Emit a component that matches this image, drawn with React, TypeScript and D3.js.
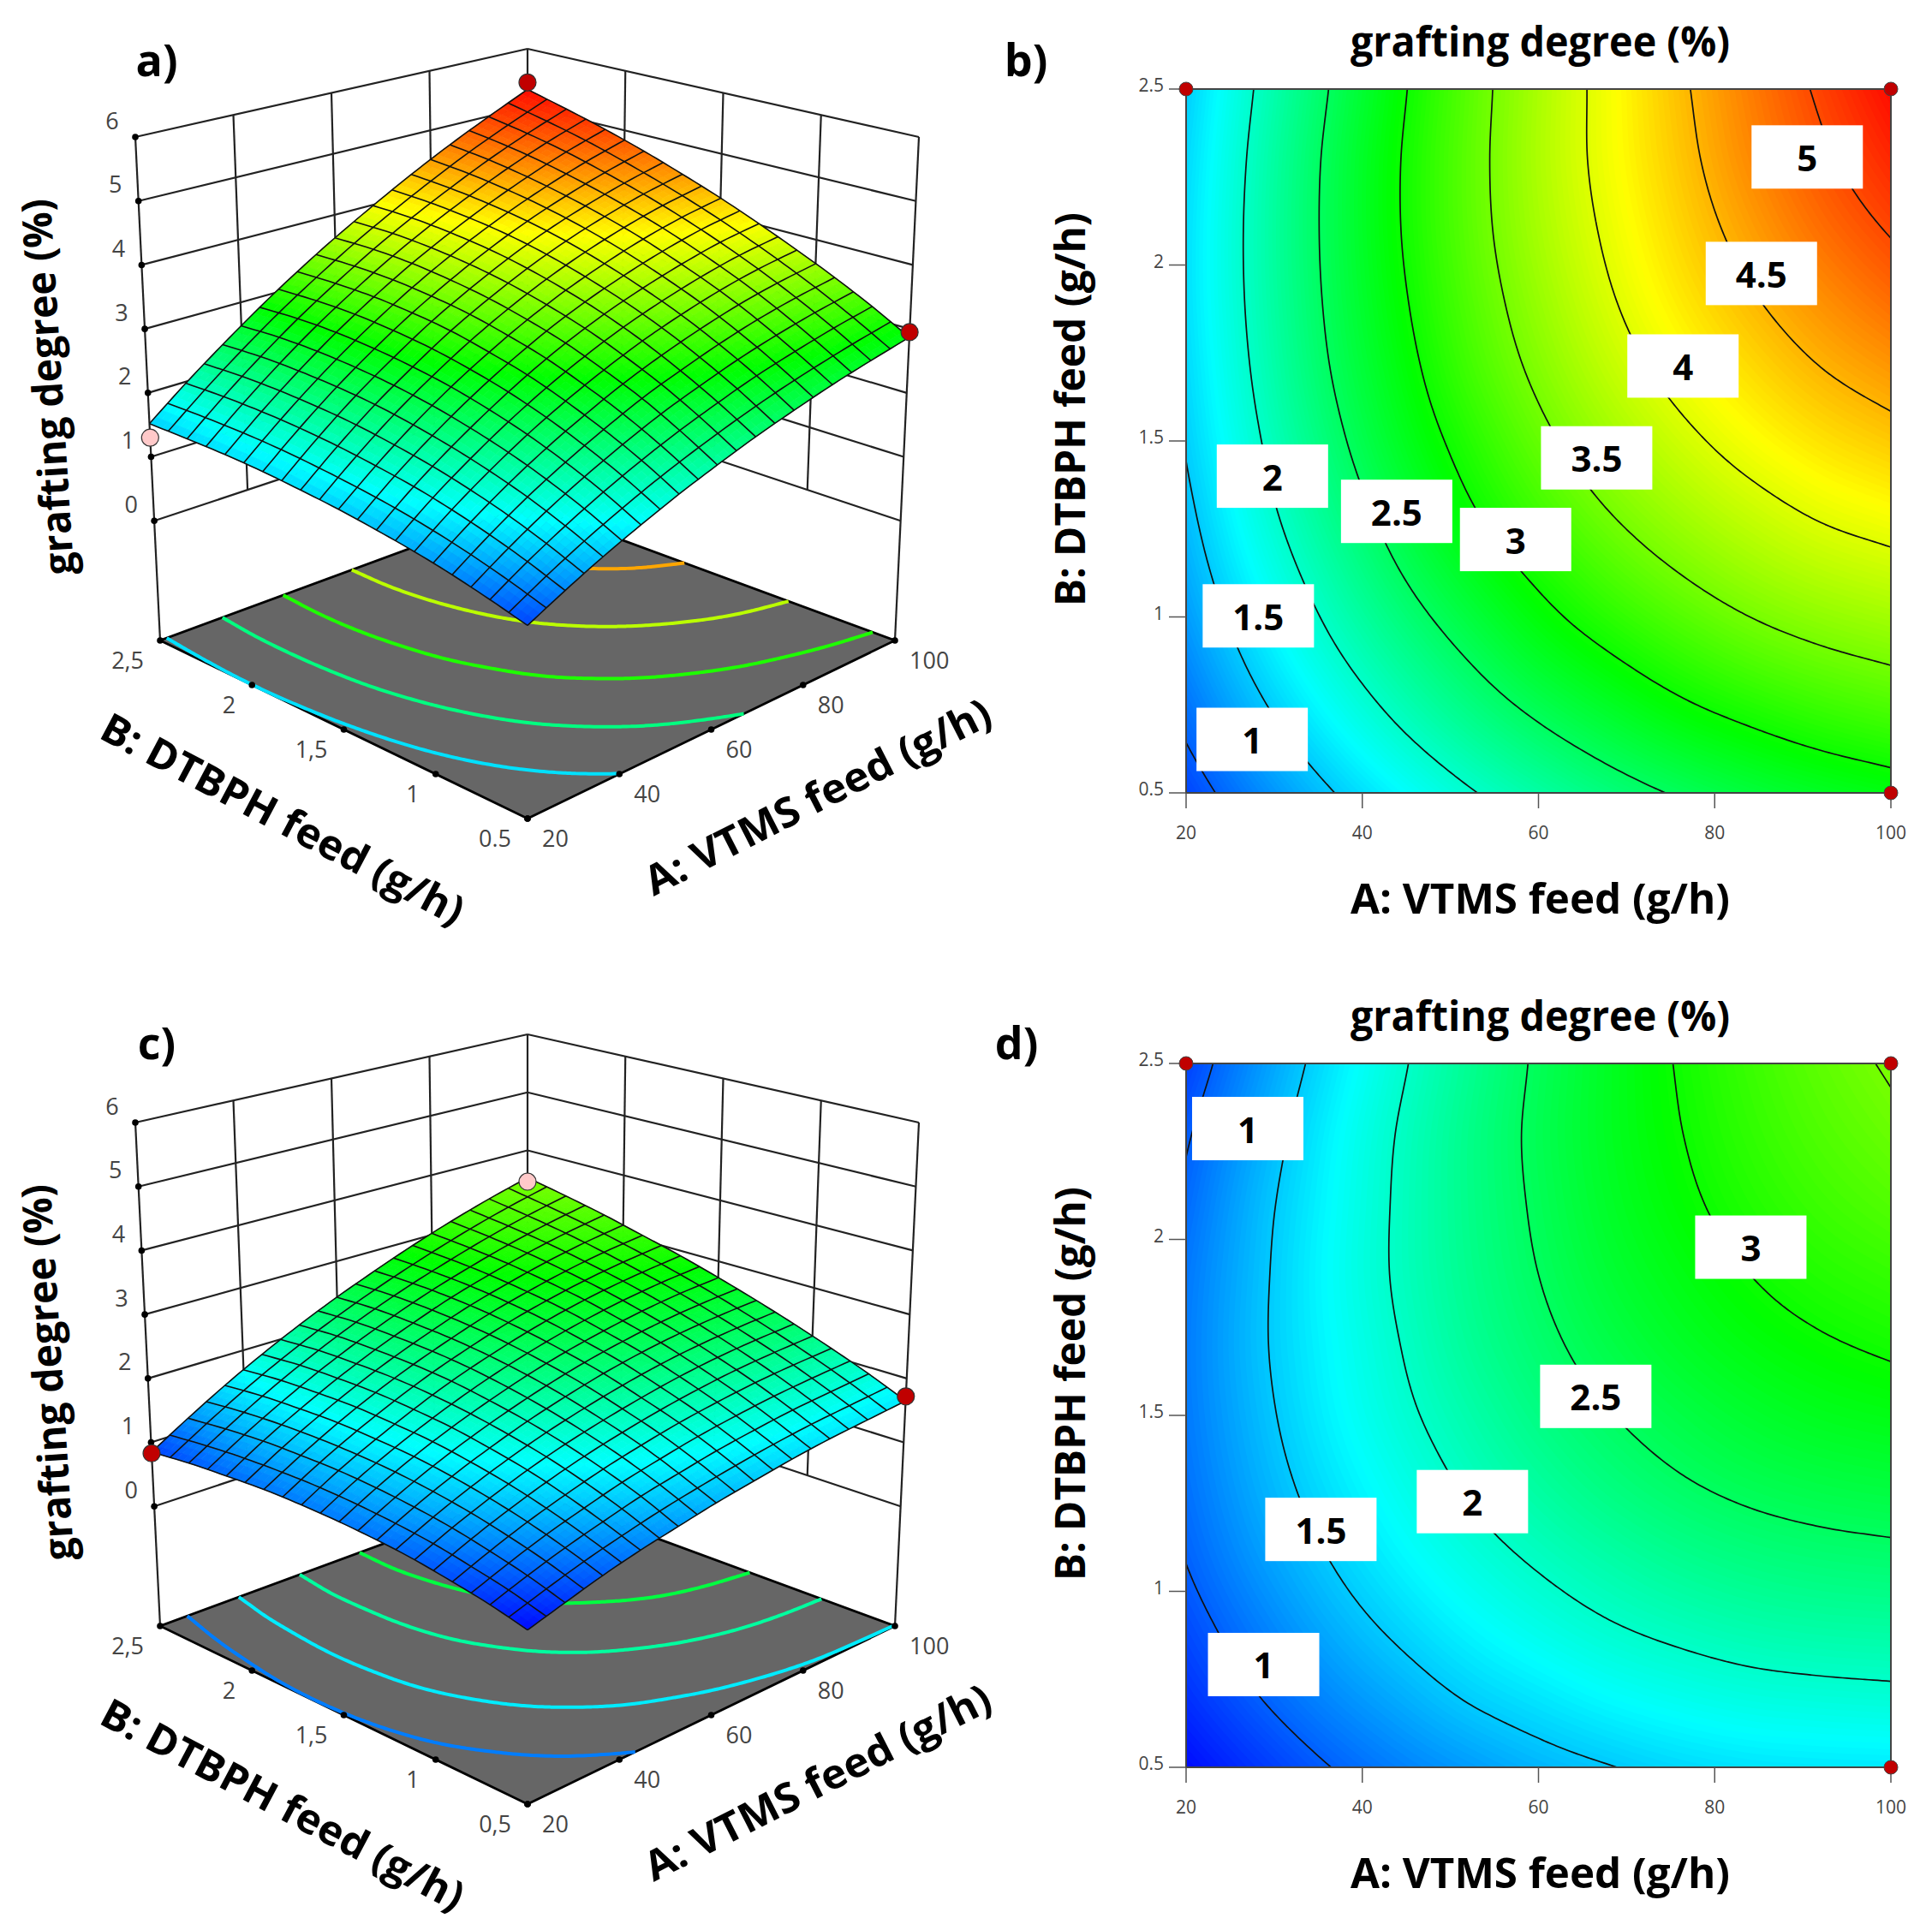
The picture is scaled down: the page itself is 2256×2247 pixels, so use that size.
import React, { useEffect } from "react";
import * as d3 from "d3";

// response tables, rows run B = 0.5 -> 2.5, columns A = 20 -> 100
const gradeTop = [
  [0.87, 1.18, 1.47, 1.73, 1.97, 2.18, 2.37, 2.53, 2.67, 2.78, 2.87],
  [1.05, 1.40, 1.72, 2.01, 2.27, 2.50, 2.70, 2.88, 3.02, 3.14, 3.23],
  [1.21, 1.59, 1.94, 2.25, 2.53, 2.79, 3.00, 3.19, 3.35, 3.47, 3.56],
  [1.34, 1.75, 2.12, 2.46, 2.76, 3.03, 3.27, 3.47, 3.64, 3.77, 3.86],
  [1.44, 1.88, 2.27, 2.63, 2.96, 3.25, 3.50, 3.71, 3.89, 4.04, 4.14],
  [1.52, 1.97, 2.39, 2.77, 3.11, 3.42, 3.69, 3.92, 4.12, 4.28, 4.40],
  [1.57, 2.04, 2.48, 2.87, 3.24, 3.56, 3.85, 4.10, 4.31, 4.49, 4.63],
  [1.60, 2.08, 2.53, 2.94, 3.32, 3.66, 3.97, 4.24, 4.47, 4.67, 4.84],
  [1.60, 2.09, 2.55, 2.98, 3.37, 3.73, 4.05, 4.34, 4.60, 4.83, 5.02],
  [1.57, 2.07, 2.54, 2.98, 3.38, 3.76, 4.10, 4.41, 4.70, 4.95, 5.17],
  [1.52, 2.02, 2.49, 2.94, 3.36, 3.75, 4.11, 4.45, 4.76, 5.04, 5.30],
];
const gradeBottom = [
  [0.60, 0.80, 0.99, 1.15, 1.28, 1.40, 1.49, 1.57, 1.62, 1.64, 1.65],
  [0.77, 0.99, 1.19, 1.36, 1.52, 1.64, 1.75, 1.83, 1.89, 1.92, 1.94],
  [0.90, 1.14, 1.36, 1.55, 1.72, 1.86, 1.98, 2.07, 2.14, 2.18, 2.20],
  [1.01, 1.27, 1.50, 1.71, 1.89, 2.04, 2.17, 2.28, 2.36, 2.41, 2.44],
  [1.08, 1.36, 1.61, 1.83, 2.03, 2.20, 2.35, 2.47, 2.56, 2.62, 2.66],
  [1.12, 1.42, 1.69, 1.93, 2.14, 2.33, 2.49, 2.62, 2.73, 2.81, 2.86],
  [1.13, 1.45, 1.73, 1.99, 2.23, 2.43, 2.61, 2.76, 2.88, 2.97, 3.04],
  [1.11, 1.44, 1.75, 2.03, 2.28, 2.50, 2.70, 2.86, 3.00, 3.11, 3.19],
  [1.05, 1.41, 1.73, 2.03, 2.30, 2.54, 2.76, 2.94, 3.10, 3.23, 3.33],
  [0.97, 1.34, 1.69, 2.01, 2.30, 2.56, 2.79, 2.99, 3.17, 3.32, 3.44],
  [0.85, 1.24, 1.61, 1.95, 2.26, 2.54, 2.79, 3.02, 3.22, 3.39, 3.53],
];

const aTicks = [20, 40, 60, 80, 100];
const bTicks = [0.5, 1, 1.5, 2, 2.5];
const zTicks = [0, 1, 2, 3, 4, 5, 6];

const colorStops = [0.55, 1.75, 2.95, 4.15, 5.35];
const colorRange = ["#0000ff", "#00ffff", "#00ff00", "#ffff00", "#ff0000"];

// contour levels
const linesTop = [1, 1.5, 2, 2.5, 3, 3.5, 4, 4.5, 5];
const linesBottom = [1, 1.5, 2, 2.5, 3, 3.5];
const floorTop = [1.61, 2.35, 3.09, 3.83, 4.57];
const floorBottom = [1.14, 1.66, 2.2, 2.65, 3.13];

// white label boxes: text, A, B
const labelsTop: [string, number, number][] = [
  ["5", 90.5, 2.307], ["4.5", 85.3, 1.976], ["4", 76.4, 1.713], ["3.5", 66.6, 1.452], ["3", 57.4, 1.22],
  ["2.5", 43.9, 1.3], ["2", 29.8, 1.4], ["1.5", 28.2, 1.003], ["1", 27.5, 0.652],
];
const labelsBottom: [string, number, number][] = [
  ["1", 27, 2.315], ["3", 84.1, 1.978], ["2.5", 66.5, 1.554], ["2", 52.5, 1.255], ["1.5", 35.3, 1.176], ["1", 28.8, 0.792],
];

// design points: A, B, response, colour
const pointsTop: [number, number, number, string][] = [
  [100, 2.5, 5.42, "#c00000"], [100, 0.5, 2.95, "#c00000"], [20, 2.5, 1.3, "#ffc9c9"],
];
const pointsBottom: [number, number, number, string][] = [
  [100, 2.5, 3.46, "#ffc9c9"], [100, 0.5, 1.72, "#c00000"], [20, 2.5, 0.83, "#c00000"],
];
const cornerPoints = [[20, 2.5], [100, 2.5], [100, 0.5]];

const FONT = "'Open Sans', sans-serif";
const aLab = "A: VTMS feed (g/h)";
const bLab = "B: DTBPH feed (g/h)";
const zLab = "grafting degree (%)";

const color = d3.scaleLinear<string>().domain(colorStops).range(colorRange).clamp(true);
const aNorm = d3.scaleLinear().domain([20, 100]).range([0, 1]);
const bNorm = d3.scaleLinear().domain([0.5, 2.5]).range([0, 1]);
const zNorm = d3.scaleLinear().domain([-1.87, 6]).range([0, 1]);

// box corners in order (a0,b0) (a1,b0) (a0,b1) (a1,b1)
const floorX = [616, 1045, 187, 616];
const floorY = [956, 748, 748, 590];
const topX = [616, 1073, 158, 616];
const topY = [308, 160, 160, 57];

const catmull = (p: number[], t: number) => {
  const n = p.length - 1;
  const s = Math.min(n - 1, Math.floor(t * n));
  const f = t * n - s;
  const g = (i: number) => (i < 0 ? 2 * p[0] - p[1] : i > n ? 2 * p[n] - p[n - 1] : p[i]);
  const [p0, p1, p2, p3] = [g(s - 1), g(s), g(s + 1), g(s + 2)];
  return 0.5 * (2 * p1 + (p2 - p0) * f + (2 * p0 - 5 * p1 + 4 * p2 - p3) * f * f + (3 * p1 - p0 - 3 * p2 + p3) * f * f * f);
};
const sample = (grid: number[][], a: number, b: number) => catmull(grid.map((row) => catmull(row, a)), b);

const project = (a: number, b: number, z: number, dy: number): [number, number] => {
  const w = zNorm(z);
  const bil = (q: number[]) => (1 - a) * (1 - b) * q[0] + a * (1 - b) * q[1] + (1 - a) * b * q[2] + a * b * q[3];
  return [(1 - w) * bil(floorX) + w * bil(topX), (1 - w) * bil(floorY) + w * bil(topY) + dy];
};

// the sheet sits a little lower mid-span than the box corners suggest
const SAG = 9;
const surfacePoint = (grid: number[][], a: number, b: number, dy: number): [number, number] => {
  const [x, y] = project(a, b, sample(grid, a, b), dy);
  return [x, y + SAG * (1 - (2 * a - 1) ** 2 * (2 * b - 1) ** 2)];
};

// contour polylines in normalised (a,b), with the runs along the domain edge dropped
const contourLines = (grid: number[][], level: number, N = 161) => {
  const values = new Float64Array(N * N);
  for (let y = 0; y < N; y++) for (let x = 0; x < N; x++) values[y * N + x] = sample(grid, x / (N - 1), y / (N - 1));
  const mp = d3.contours().size([N, N]).contour(values as any, level);
  const out: [number, number][][] = [];
  const lim = 0.5 + 1e-6;
  const edge = (p: number[]) => p[0] <= lim || p[1] <= lim || p[0] >= N - lim || p[1] >= N - lim;
  const toUnit = (p: number[]): [number, number] => [
    Math.max(0, Math.min(1, (p[0] - 0.5) / (N - 1))),
    Math.max(0, Math.min(1, (p[1] - 0.5) / (N - 1))),
  ];
  mp.coordinates.forEach((poly) =>
    poly.forEach((ring) => {
      let cur: [number, number][] = [];
      for (let i = 1; i < ring.length; i++) {
        if (edge(ring[i - 1]) && edge(ring[i])) {
          if (cur.length) out.push(cur);
          cur = [];
        } else {
          if (!cur.length) cur.push(toUnit(ring[i - 1]));
          cur.push(toUnit(ring[i]));
        }
      }
      if (cur.length) out.push(cur);
    })
  );
  return out;
};

const addText = (g: any, txt: string, x: number, y: number, size: number, opts: any = {}) =>
  g.append("text")
    .attr("transform", `translate(${x},${y}) rotate(${opts.rotate || 0})`)
    .attr("text-anchor", opts.anchor || "middle")
    .attr("dominant-baseline", "central")
    .style("font-family", FONT)
    .style("font-size", size + "px")
    .style("font-weight", opts.weight || 400)
    .style("fill", opts.fill || "#000")
    .attr("textLength", opts.length || null)
    .attr("lengthAdjust", opts.length ? "spacingAndGlyphs" : null)
    .text(txt);

const drawSurface = (svg: any, grid: number[][], floorLevels: number[], points: any[], dy: number, bZero: string) => {
  const g = svg.append("g");
  const line = d3.line();
  const seg = (p: [number, number], q: [number, number], w: number, c: string) =>
    g.append("path").attr("d", line([p, q])).attr("fill", "none").attr("stroke", c).attr("stroke-width", w);

  // back walls
  const wall = "#222";
  zTicks.forEach((z) => {
    seg(project(0, 1, z, dy), project(1, 1, z, dy), 2.2, wall);
    seg(project(1, 0, z, dy), project(1, 1, z, dy), 2.2, wall);
  });
  aTicks.slice(1).forEach((a) => seg(project(aNorm(a), 1, 0, dy), project(aNorm(a), 1, 6, dy), 2.2, wall));
  bTicks.slice(1, -1).forEach((b) => seg(project(1, bNorm(b), 0, dy), project(1, bNorm(b), 6, dy), 2.2, wall));
  seg(project(0, 1, -1.87, dy), project(0, 1, 6, dy), 2.2, wall);
  seg(project(1, 0, -1.87, dy), project(1, 0, 6, dy), 2.2, wall);

  // floor with the projected contours
  const zf = -1.87;
  g.append("path")
    .attr("d", line([project(0, 0, zf, dy), project(1, 0, zf, dy), project(1, 1, zf, dy), project(0, 1, zf, dy)]) + "Z")
    .attr("fill", "#666666").attr("stroke", "#000").attr("stroke-width", 2.8);
  floorLevels.forEach((lv) => {
    contourLines(grid, lv).forEach((l) => {
      g.append("path")
        .attr("d", line(l.map(([a, b]) => project(a, b, zf, dy))))
        .attr("fill", "none").attr("stroke", color(lv)).attr("stroke-width", 4);
    });
  });

  // surface: fine cells far to near, then the 20x20 mesh
  const SUB = 3, CELLS = 20, n = CELLS * SUB;
  const cells: { d: string; c: string }[] = [];
  for (let j = n - 1; j >= 0; j--) {
    for (let i = n - 1; i >= 0; i--) {
      const corners = [[i, j], [i + 1, j], [i + 1, j + 1], [i, j + 1]].map(([u, v]) => surfacePoint(grid, u / n, v / n, dy));
      cells.push({ d: line(corners as any) + "Z", c: color(sample(grid, (i + 0.5) / n, (j + 0.5) / n)) });
    }
  }
  g.selectAll(".cell").data(cells).enter().append("path")
    .attr("d", (d: any) => d.d).attr("fill", (d: any) => d.c).attr("stroke", (d: any) => d.c).attr("stroke-width", 0.8);
  const steps = d3.range(n + 1).map((v) => v / n);
  d3.range(CELLS + 1).forEach((k) => {
    const t = k / CELLS;
    [steps.map((s) => surfacePoint(grid, s, t, dy)), steps.map((s) => surfacePoint(grid, t, s, dy))]
      .forEach((pts) => g.append("path").attr("d", line(pts)).attr("fill", "none").attr("stroke", "#111").attr("stroke-width", 1.6));
  });

  // tick dots and labels
  const dot = (p: [number, number]) => g.append("circle").attr("cx", p[0]).attr("cy", p[1]).attr("r", 3.8).attr("fill", "#000");
  zTicks.forEach((z) => {
    const p = project(0, 1, z, dy);
    dot(p);
    addText(g, String(z), p[0] - 27, p[1] - 20, 27, { fill: "#444" });
  });
  aTicks.forEach((a) => {
    const p = project(aNorm(a), 0, zf, dy);
    dot(p);
    addText(g, String(a), p[0] + 17, p[1] + 22, 27, { anchor: "start", fill: "#444" });
  });
  bTicks.forEach((b) => {
    const p = project(0, bNorm(b), zf, dy);
    dot(p);
    const txt = b === 0.5 ? bZero : String(b).replace(".", ",");
    addText(g, txt, p[0] - 19, p[1] + 22, 27, { anchor: "end", fill: "#444" });
  });

  points.forEach(([a, b, z, c]) => {
    const p = project(aNorm(a), bNorm(b), z, dy);
    g.append("circle").attr("cx", p[0]).attr("cy", p[1]).attr("r", 10).attr("fill", c).attr("stroke", "#333").attr("stroke-width", 1.2);
  });

  addText(g, bLab, 331, 955 + dy, 48, { rotate: 27.9, weight: 700, length: 472 });
  addText(g, aLab, 954, 929 + dy, 48, { rotate: -27, weight: 700, length: 447 });
  addText(g, zLab, 54, 452 + dy, 48, { rotate: -93.6, weight: 700, length: 440 });
};

const drawContour = (svg: any, grid: number[][], levels: number[], labels: [string, number, number][], top: number, id: string) => {
  const left = 1385, right = 2208, bottom = top + 822;
  const x = d3.scaleLinear().domain([20, 100]).range([left, right]);
  const y = d3.scaleLinear().domain([0.5, 2.5]).range([bottom, top]);
  const g = svg.append("g");
  g.append("clipPath").attr("id", id).append("rect").attr("x", left).attr("y", top).attr("width", right - left).attr("height", bottom - top);
  const plot = g.append("g").attr("clip-path", `url(#${id})`);

  const N = 121;
  const values = new Float64Array(N * N);
  for (let j = 0; j < N; j++) for (let i = 0; i < N; i++) values[j * N + i] = sample(grid, i / (N - 1), j / (N - 1));
  const [lo, hi] = d3.extent(values as any) as unknown as [number, number];
  const step = 0.025;
  const thresholds = d3.range(lo, hi, step);
  plot.append("rect").attr("x", left).attr("y", top).attr("width", right - left).attr("height", bottom - top).attr("fill", color(lo));
  const toX = (v: number) => left + ((v - 0.5) / (N - 1)) * (right - left);
  const toY = (v: number) => bottom - ((v - 0.5) / (N - 1)) * (bottom - top);
  const path = d3.geoPath(d3.geoTransform({
    point(px: number, py: number) {
      (this as any).stream.point(toX(px), toY(py));
    },
  }));
  plot.selectAll(".band").data(d3.contours().size([N, N]).thresholds(thresholds)(values as any)).enter().append("path")
    .attr("d", (d: any) => path(d)).attr("fill", (d: any) => color(d.value + step / 2));

  const line = d3.line();
  levels.forEach((lv) => {
    contourLines(grid, lv).forEach((l) => {
      plot.append("path")
        .attr("d", line(l.map(([a, b]) => [x(20 + a * 80), y(0.5 + b * 2)] as [number, number])))
        .attr("fill", "none").attr("stroke", "#111").attr("stroke-width", 1.7);
    });
  });

  g.append("rect").attr("x", left).attr("y", top).attr("width", right - left).attr("height", bottom - top)
    .attr("fill", "none").attr("stroke", "#444").attr("stroke-width", 2);

  aTicks.forEach((a) => {
    g.append("line").attr("x1", x(a)).attr("x2", x(a)).attr("y1", bottom).attr("y2", bottom + 18).attr("stroke", "#555").attr("stroke-width", 1.5);
    addText(g, String(a), x(a), bottom + 46, 21, { fill: "#444" });
  });
  bTicks.forEach((b) => {
    g.append("line").attr("x1", left - 20).attr("x2", left).attr("y1", y(b)).attr("y2", y(b)).attr("stroke", "#555").attr("stroke-width", 1.5);
    addText(g, String(b), left - 26, y(b) - 5, 21, { anchor: "end", fill: "#444" });
  });

  labels.forEach(([t, a, b]) => {
    g.append("rect").attr("x", x(a) - 65).attr("y", y(b) - 37).attr("width", 130).attr("height", 74).attr("fill", "#fff");
    addText(g, t, x(a), y(b), 42, { weight: 700 });
  });

  cornerPoints.forEach(([a, b]) => {
    g.append("circle").attr("cx", x(a)).attr("cy", y(b)).attr("r", 8).attr("fill", "#c00000").attr("stroke", "#444").attr("stroke-width", 1);
  });

  addText(g, zLab, 1798.5, top - 57, 48, { weight: 700, length: 443 });
  addText(g, aLab, 1798.5, bottom + 122, 48, { weight: 700, length: 443 });
  addText(g, bLab, 1248, (top + bottom) / 2 - 37, 48, { rotate: -90, weight: 700, length: 460 });
};

const App = () => {
  const ref = React.useRef<SVGSVGElement>(null);

  useEffect(() => {
    const svg = d3.select(ref.current);
    svg.selectAll("*").remove();

    drawSurface(svg, gradeTop, floorTop, pointsTop, 0, "0.5");
    drawSurface(svg, gradeBottom, floorBottom, pointsBottom, 1151, "0,5");
    drawContour(svg, gradeTop, linesTop, labelsTop, 104, "clip-b");
    drawContour(svg, gradeBottom, linesBottom, labelsBottom, 1242, "clip-d");

    // panel letters
    addText(svg, "a)", 183, 68, 52, { weight: 700 });
    addText(svg, "b)", 1198, 68, 52, { weight: 700 });
    addText(svg, "c)", 183, 1216, 52, { weight: 700 });
    addText(svg, "d)", 1187, 1216, 52, { weight: 700 });
  }, []);

  return <svg ref={ref} width={2256} height={2247} style={{ position: "absolute", left: 0, top: 0, background: "#fff" }} />;
};

export default App;
